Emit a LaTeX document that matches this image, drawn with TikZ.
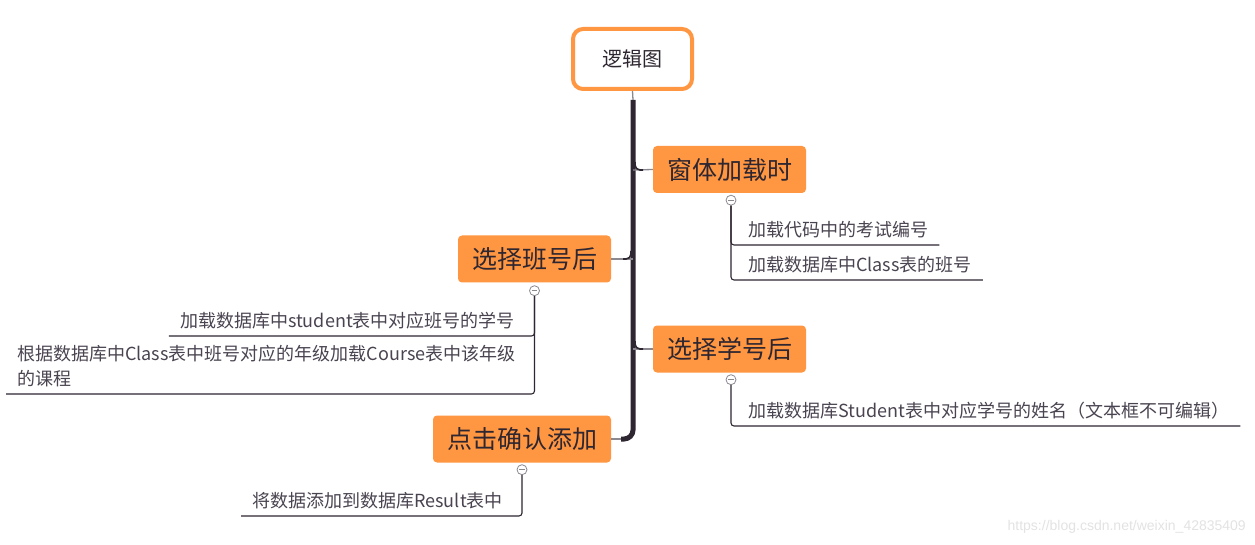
\documentclass[tikz,border=0pt]{standalone}
\usepackage{fontspec}
\setmainfont{Noto Sans CJK SC}
\newfontfamily\wmfont{Liberation Sans}
\usetikzlibrary{calc}
\definecolor{orng}{HTML}{FF9642}
\definecolor{dark}{HTML}{2E2630}
\definecolor{conn}{HTML}{8C8890}
\definecolor{leaftxt}{HTML}{4A4450}
\tikzset{
 rootbox/.style={draw=orng, line width=4pt, rounded corners=10pt, fill=white, minimum width=119pt, minimum height=60pt, font=\fontsize{20}{24}\selectfont, text=dark},
 topic/.style={fill=orng, rounded corners=4pt, minimum height=47pt, inner xsep=14pt, font=\fontsize{25}{30}\selectfont, text=dark},
 leaf/.style={inner xsep=11pt, inner ysep=3pt, text depth=5pt, font=\fontsize{18}{25}\selectfont, text=leaftxt, align=left},
 collapse/.style={circle, draw=conn, fill=white, line width=0.8pt, minimum size=10pt, inner sep=0pt,
   path picture={\draw[conn, line width=0.8pt] ($(path picture bounding box.center)+(-2.8,0)$) -- ($(path picture bounding box.center)+(2.8,0)$);}},
 trunk/.style={draw=dark, line width=5pt},
 link/.style={draw=conn, line width=1.3pt},
 fillet/.style={draw=dark, line width=1.6pt, rounded corners=5pt},
 sub/.style={draw=dark, line width=1.1pt, rounded corners=3pt},
}
\begin{document}
\begin{tikzpicture}[x=1pt,y=-1pt]
\fill[white] (0,0) rectangle (1255,545);
\useasboundingbox (0,0) rectangle (1255,545);

% root and main topics
\node[rootbox] (root) at (632.5,59) {逻辑图};
\node[topic] (t1) at (729.5,169.5) {窗体加载时};
\node[topic] (t2) at (534.5,259) {选择班号后};
\node[topic] (t3) at (729.5,349) {选择学号后};
\node[topic] (t4) at (522,439) {点击确认添加};

% trunk
\coordinate (top) at (633,100);
\coordinate (j1) at (633,170);
\coordinate (j2) at (633,259);
\coordinate (j3) at (633,349);
\coordinate (j4) at (633,439);
\coordinate (j4e) at (621,439);
\draw[link] (root.south) -- (top);
\draw[trunk, rounded corners=9pt] (top) |- (j4e);
\draw[link] (j4e) -- (t4.east);
\draw[link] (j1) -- (t1.west);
\draw[link] (j2) -- (t2.east);
\draw[link] (j3) -- (t3.west);
\draw[fillet] ($(j1)+(2,-8)$) |- ($(j1)+(10,0)$);
\draw[fillet] ($(j2)+(-2,-8)$) |- ($(j2)+(-10,0)$);
\draw[fillet] ($(j3)+(2,-8)$) |- ($(j3)+(10,0)$);

% collapse markers
\node[collapse] (c1) at ($(t1.south)+(1.5,7)$) {};
\node[collapse] (c2) at ($(t2.south)+(0,8)$) {};
\node[collapse] (c3) at ($(t3.south)+(1.5,7)$) {};
\node[collapse] (c4) at ($(t4.south)+(0,7)$) {};

% leaves
\node[leaf, anchor=south west] (l1) at (737,245) {加载代码中的考试编号};
\node[leaf, anchor=south west] (l2) at (737,280) {加载数据库中Class表的班号};
\node[leaf, anchor=south east] (l3) at (526,336) {加载数据库中student表中对应班号的学号};
\node[leaf, anchor=south west] (l4) at (6,394) {根据数据库中Class表中班号对应的年级加载Course表中该年级\\的课程};
\node[leaf, anchor=south west] (l5) at (737,426) {加载数据库Student表中对应学号的姓名（文本框不可编辑）};
\node[leaf, anchor=south east] (l6) at (514,516) {将数据添加到数据库Result表中};

\draw[sub] (c1.south) |- (l1.south east);
\draw[sub] (c1.south) |- (l2.south east);
\draw[sub] (c2.south) |- (l3.south west);
\draw[sub] (c2.south) |- (l4.south west);
\draw[sub] (c3.south) |- (l5.south east);
\draw[sub] (c4.south) |- (l6.south west);

% watermark
\node[font=\wmfont\fontsize{14}{16}\selectfont, text=black!11, anchor=east, inner sep=0pt] (wm) at (1246,527) {https://blog.csdn.net/weixin\_42835409};
\end{tikzpicture}
\end{document}
